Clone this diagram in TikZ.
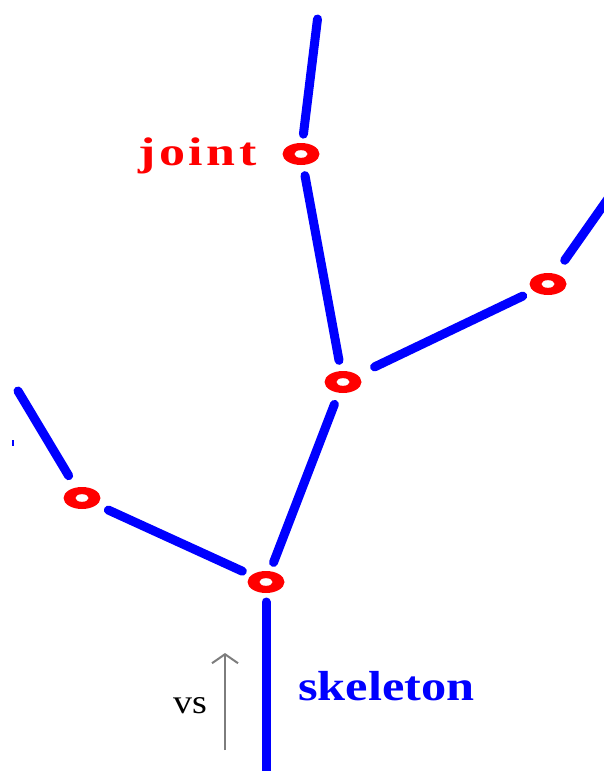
\documentclass[tikz,border=0pt]{standalone}
\usepackage{fontspec}
\setmainfont{Liberation Serif}
\usetikzlibrary{arrows.meta,shapes.geometric}
\definecolor{jred}{RGB}{255,0,0}
\definecolor{bblue}{RGB}{0,0,255}
\definecolor{agray}{RGB}{125,125,125}
\begin{document}
\begin{tikzpicture}[x=1pt,y=-1pt,
  jnt/.style={ellipse,fill=jred,minimum width=37pt,minimum height=22pt,inner sep=0pt,
    path picture={\fill[white] (path picture bounding box.center) ellipse [x radius=6.5pt,y radius=3.8pt];}},
  bone/.style={draw=bblue,line width=9pt,line cap=round},
  lbl/.style={inner sep=0pt,anchor=base west}]
\useasboundingbox[fill=white] (0,0) rectangle (604,771);
% joints
\node[jnt] (j1) at (301,154) {};
\node[jnt] (j2) at (343,382) {};
\node[jnt] (j3) at (548,284) {};
\node[jnt] (j4) at (266,582) {};
\node[jnt] (j5) at (82,498) {};
% free ends
\coordinate (t1) at (317.5,19);
\coordinate (tr) at (612,193);
\coordinate (tl) at (18,391);
\coordinate (bt) at (266,780);
% bones
\draw[bone,shorten >=20pt] (t1) -- (j1.center);
\draw[bone,shorten <=22pt,shorten >=22pt] (j1.center) -- (j2.center);
\draw[bone,shorten <=35pt,shorten >=28pt] (j2.center) -- (j3.center);
\draw[bone,shorten <=29pt] (j3.center) -- (tr);
\draw[bone,shorten <=24pt,shorten >=21pt] (j2.center) -- (j4.center);
\draw[bone,shorten <=26pt,shorten >=29pt] (j4.center) -- (j5.center);
\draw[bone,shorten <=26pt] (j5.center) -- (tl);
\draw[bone,shorten <=20pt] (j4.center) -- (bt);
% small mark
\draw[bblue,line width=2pt] (13,440) -- (13,446);
% labels
\node[lbl,text=jred] (jl) at (138,165) {\fontsize{40}{42}\selectfont\bfseries\addfontfeature{LetterSpace=7}\scalebox{1.3}[1]{joint}};
\node[lbl,text=bblue] (sk) at (298,700) {\fontsize{42}{44}\selectfont\bfseries\scalebox{1.2}[1]{skeleton}};
\node[lbl,text=black] (vs) at (173,713) {\fontsize{34}{36}\selectfont\scalebox{1.12}[1]{vs}};
% arrow
\coordinate (a0) at (225,750);
\coordinate (a1) at (225,653);
\draw[agray,line width=2.2pt,-{Straight Barb[length=9pt,width=26pt,line width=2pt]}] (a0) -- (a1);
\end{tikzpicture}
\end{document}
